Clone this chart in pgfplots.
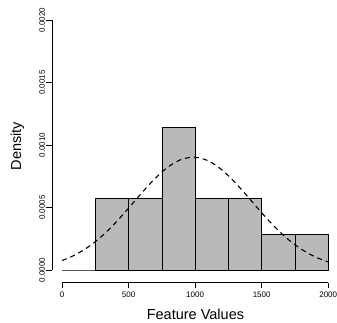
\documentclass[border=0pt]{standalone}
\usepackage{pgfplots}
\pgfplotsset{compat=1.18}
\usepackage{fontspec}
\setmainfont{Liberation Sans}
\definecolor{histgray}{RGB}{185,185,185}
\begin{document}
\begin{tikzpicture}
\begin{axis}[
  scale only axis,
  width=286.9bp, height=272.5bp,
  at={(0,0)}, anchor=south west,
  xmin=-75, xmax=2080,
  ymin=-0.0001, ymax=0.00208,
  axis x line*=bottom, axis y line*=left,
  x axis line style={draw=none},
  y axis line style={draw=none},
  tick align=outside,
  major tick length=5.5bp,
  every tick/.style={black, line width=0.7bp},
  xtick={0,500,1000,1500,2000},
  xticklabels={0,500,1000,1500,2000},
  ytick={0,0.0005,0.001,0.0015,0.002},
  yticklabels={0.0000,0.0005,0.0010,0.0015,0.0020},
  scaled y ticks=false, scaled x ticks=false,
  xticklabel style={font=\fontsize{8bp}{9.5bp}\selectfont, anchor=base, yshift=-9bp},
  yticklabel style={font=\fontsize{8bp}{9.5bp}\selectfont, rotate=90, anchor=south},
  yticklabel shift=-2bp,
  xlabel={Feature Values},
  ylabel={Density},
  xlabel style={at={(axis description cs:0.5,-0.1376)}, anchor=base, font=\fontsize{14.5bp}{17bp}\selectfont},
  ylabel style={at={(axis description cs:-0.108,0.5)}, anchor=base, rotate=0, font=\fontsize{14.5bp}{17bp}\selectfont},
  clip=false,
]
\addplot[ybar interval, fill=histgray, draw=black, line width=0.6bp] coordinates {
  (0,0) (250,0.000571) (500,0.000571) (750,0.001143) (1000,0.000571)
  (1250,0.000571) (1500,0.000286) (1750,0.000286) (2000,0.000286)
};
\addplot[black, line width=1.1bp, dash pattern=on 5bp off 4bp, smooth, mark=none] coordinates {
  (0,0.0000754) (100,0.0001216) (200,0.0001865) (300,0.0002716) (400,0.0003760)
  (500,0.0004944) (600,0.0006177) (700,0.0007332) (800,0.0008269) (900,0.0008861)
  (1000,0.0009021) (1100,0.0008726) (1200,0.0008019) (1300,0.0007002) (1400,0.0005808)
  (1500,0.0004578) (1600,0.0003428) (1700,0.0002440) (1800,0.0001649) (1900,0.0001059)
  (2000,0.0000646)
};
\draw[black, line width=0.7bp] (axis cs:0,-0.0001) -- (axis cs:2000,-0.0001);
\draw[black, line width=0.7bp] (axis cs:-75,0) -- (axis cs:-75,0.002);
\end{axis}
\pgfresetboundingbox
\useasboundingbox (-52bp,-40.5bp) rectangle (285bp,282.5bp);
\end{tikzpicture}
\end{document}
